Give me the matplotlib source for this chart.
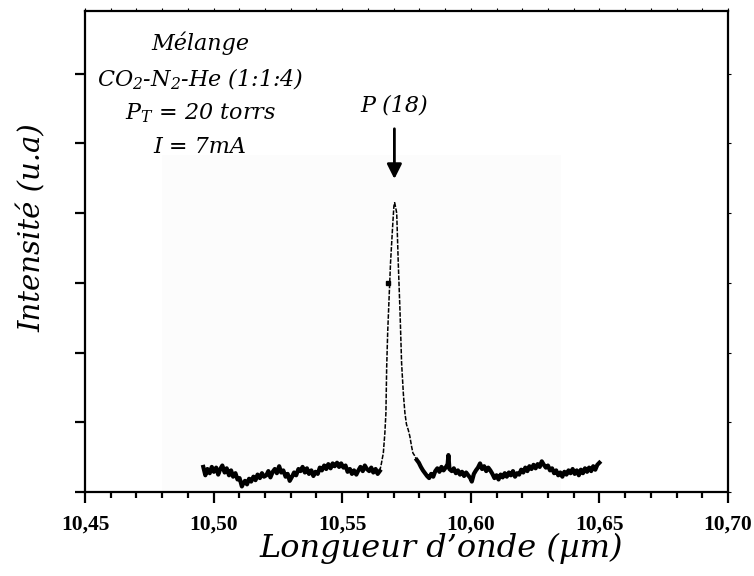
import numpy as np
import matplotlib
matplotlib.use("Agg")
import matplotlib.pyplot as plt
from matplotlib.patches import Rectangle

plt.rcParams['mathtext.fontset'] = 'custom'
plt.rcParams['mathtext.it'] = 'DejaVu Serif:italic'
plt.rcParams['mathtext.rm'] = 'DejaVu Serif:italic'

# spectrum (wavelength in um, intensity in tick units)
wavelength = [
    10.4960, 10.4968, 10.4976, 10.4985, 10.4993, 10.5001, 10.5010, 10.5018, 10.5026, 10.5034,
    10.5043, 10.5051, 10.5060, 10.5068, 10.5076, 10.5085, 10.5093, 10.5101, 10.5110, 10.5115,
    10.5122, 10.5130, 10.5138, 10.5146, 10.5155, 10.5163, 10.5171, 10.5180, 10.5188, 10.5196,
    10.5205, 10.5213, 10.5221, 10.5230, 10.5238, 10.5246, 10.5255, 10.5263, 10.5271, 10.5280,
    10.5288, 10.5296, 10.5305, 10.5313, 10.5321, 10.5330, 10.5338, 10.5346, 10.5355, 10.5363,
    10.5371, 10.5380, 10.5388, 10.5396, 10.5405, 10.5413, 10.5421, 10.5430, 10.5438, 10.5446,
    10.5455, 10.5463, 10.5471, 10.5480, 10.5488, 10.5496, 10.5505, 10.5513, 10.5521, 10.5530,
    10.5538, 10.5546, 10.5555, 10.5563, 10.5571, 10.5580, 10.5588, 10.5596, 10.5605, 10.5613,
    10.5621, 10.5630, 10.5638, 10.5646,
    10.5652, 10.5660, 10.5666, 10.5670, 10.5673, 10.5677, 10.5680, 10.5688, 10.5696, 10.5701,
    10.5704, 10.5708, 10.5712, 10.5718, 10.5725, 10.5731, 10.5738, 10.5744, 10.5750, 10.5757,
    10.5763, 10.5770, 10.5775,
    10.5782, 10.5790, 10.5798, 10.5806, 10.5814, 10.5822, 10.5830, 10.5838, 10.5846, 10.5854,
    10.5862, 10.5870, 10.5878, 10.5886, 10.5894, 10.5902, 10.5910, 10.5913, 10.5917, 10.5926,
    10.5934, 10.5942, 10.5950, 10.5958, 10.5966, 10.5974, 10.5982, 10.5990, 10.5998, 10.6004,
    10.6012, 10.6020, 10.6028, 10.6036, 10.6044, 10.6052, 10.6060, 10.6068, 10.6076, 10.6084,
    10.6092, 10.6100, 10.6108, 10.6116, 10.6124, 10.6132, 10.6140, 10.6148, 10.6156, 10.6164,
    10.6172, 10.6180, 10.6188, 10.6196, 10.6204, 10.6212, 10.6220, 10.6228, 10.6236, 10.6244,
    10.6252, 10.6260, 10.6268, 10.6276, 10.6284, 10.6292, 10.6300, 10.6308, 10.6316, 10.6324,
    10.6332, 10.6340, 10.6348, 10.6356, 10.6364, 10.6372, 10.6380, 10.6388, 10.6396, 10.6404,
    10.6412, 10.6420, 10.6428, 10.6436, 10.6444, 10.6452, 10.6460, 10.6468, 10.6476, 10.6484,
    10.6492, 10.6500,
]
intensity = [
    0.36, 0.24, 0.33, 0.27, 0.36, 0.29, 0.35, 0.25, 0.33, 0.38,
    0.28, 0.34, 0.24, 0.31, 0.22, 0.27, 0.18, 0.20, 0.08, 0.12,
    0.16, 0.11, 0.19, 0.15, 0.22, 0.17, 0.25, 0.20, 0.27, 0.22,
    0.24, 0.30, 0.21, 0.29, 0.33, 0.27, 0.37, 0.28, 0.31, 0.22,
    0.26, 0.16, 0.22, 0.28, 0.24, 0.33, 0.30, 0.36, 0.28, 0.34,
    0.26, 0.31, 0.23, 0.29, 0.26, 0.35, 0.31, 0.38, 0.33, 0.40,
    0.34, 0.41, 0.37, 0.42, 0.36, 0.41, 0.35, 0.38, 0.29, 0.33,
    0.26, 0.31, 0.25, 0.31, 0.36, 0.30, 0.38, 0.33, 0.30, 0.35,
    0.28, 0.33, 0.26, 0.30,
    0.40, 0.56, 0.85, 1.13, 1.79, 2.30, 2.57, 3.29, 3.80, 4.10,
    4.15, 4.08, 4.00, 3.29, 2.57, 1.85, 1.40, 1.13, 0.97, 0.89,
    0.80, 0.65, 0.56,
    0.52, 0.46, 0.42, 0.36, 0.31, 0.27, 0.23, 0.20, 0.26, 0.22,
    0.30, 0.34, 0.29, 0.36, 0.31, 0.35, 0.40, 0.53, 0.33, 0.30,
    0.34, 0.27, 0.31, 0.25, 0.29, 0.23, 0.28, 0.24, 0.20, 0.15,
    0.26, 0.31, 0.35, 0.41, 0.33, 0.37, 0.30, 0.35, 0.31, 0.26,
    0.20, 0.24, 0.18, 0.25, 0.21, 0.27, 0.22, 0.28, 0.24, 0.30,
    0.22, 0.27, 0.25, 0.32, 0.28, 0.35, 0.30, 0.37, 0.33, 0.39,
    0.34, 0.40, 0.36, 0.44, 0.39, 0.35, 0.38, 0.31, 0.34, 0.27,
    0.31, 0.24, 0.28, 0.22, 0.29, 0.25, 0.31, 0.27, 0.33, 0.26,
    0.31, 0.24, 0.32, 0.27, 0.34, 0.29, 0.35, 0.30, 0.37, 0.32,
    0.39, 0.42,
]
stray_wl = [10.5679]
stray_int = [3.00]

peak_wl = 10.5703
peak_label = "P (18)"

xtick_vals = [10.45, 10.50, 10.55, 10.60, 10.65, 10.70]
xtick_labels = ["10,45", "10,50", "10,55", "10,60", "10,65", "10,70"]

info_lines = ["Mélange", "CO$_2$-N$_2$-He (1:1:4)", "P$_T$ = 20 torrs", "I = 7mA"]

wl = np.array(wavelength)
inten = np.array(intensity)

fig = plt.figure(figsize=(7.54, 5.76), dpi=100)
ax = fig.add_axes([0.1127, 0.1458, 0.8528, 0.8352])

# very faint backdrop of the pasted scan
ax.add_patch(Rectangle((0.12, 0.0), 0.62, 0.7, transform=ax.transAxes,
                       facecolor="#fcfcfc", edgecolor="none", zorder=0))

in_peak = (wl >= 10.5646) & (wl <= 10.5798)
left = wl <= 10.5646
right = wl >= 10.5790
ax.plot(wl[left], inten[left], color="black", lw=3.0, solid_joinstyle="round")
ax.plot(wl[right], inten[right], color="black", lw=3.0, solid_joinstyle="round")
ax.plot(wl[in_peak], inten[in_peak], color="black", lw=1.1, ls=(0, (3, 1)))
ax.plot(stray_wl, stray_int, "s", color="black", ms=3)

ax.set_xlim(10.45, 10.70)
ax.set_ylim(0, 6.9)

ax.set_xticks(xtick_vals)
ax.set_xticklabels(xtick_labels, fontfamily="Liberation Serif", fontweight="bold", fontsize=15.5)
ax.set_xticks(np.arange(10.45, 10.7001, 0.01), minor=True)
ax.set_yticks(range(0, 7))
ax.set_yticklabels([])

ax.tick_params(axis="x", which="major", direction="out", length=8, width=1.6, pad=8)
ax.tick_params(axis="x", which="minor", direction="out", length=4.5, width=1.6)
ax.tick_params(axis="y", which="major", direction="out", length=7, width=1.6)
ax.tick_params(axis="x", which="both", top=True)
ax.tick_params(axis="y", which="major", right=True)
for t in ax.xaxis.get_minor_ticks() + ax.xaxis.get_major_ticks():
    t.tick2line.set_markersize(2)
    t.tick2line.set_markeredgewidth(0.8)
for t in ax.yaxis.get_major_ticks():
    t.tick2line.set_markersize(2)
    t.tick2line.set_markeredgewidth(0.8)

for s in ax.spines.values():
    s.set_linewidth(1.6)

ax.set_xlabel("Longueur d\u2019onde (\u00b5m)", fontfamily="DejaVu Serif", fontstyle="italic",
              fontsize=23)
ax.xaxis.set_label_coords(0.554, -0.085)
ax.set_ylabel("Intensité (u.a)", fontfamily="DejaVu Serif", fontstyle="italic", fontsize=21)
ax.yaxis.set_label_coords(-0.06, 0.55)

for line, ypos in zip(info_lines, [0.933, 0.857, 0.788, 0.717]):
    ax.text(0.179, ypos, line, transform=ax.transAxes, ha="center", va="center",
            fontfamily="DejaVu Serif", fontstyle="italic", fontsize=16)

ax.text(peak_wl, 5.55, peak_label, ha="center", va="center",
        fontfamily="DejaVu Serif", fontstyle="italic", fontsize=16)
ax.annotate("", xy=(peak_wl, 4.45), xytext=(peak_wl, 5.25),
            arrowprops=dict(arrowstyle="-|>", color="black", lw=2, mutation_scale=22))

fig.savefig("out.png", dpi=100)
